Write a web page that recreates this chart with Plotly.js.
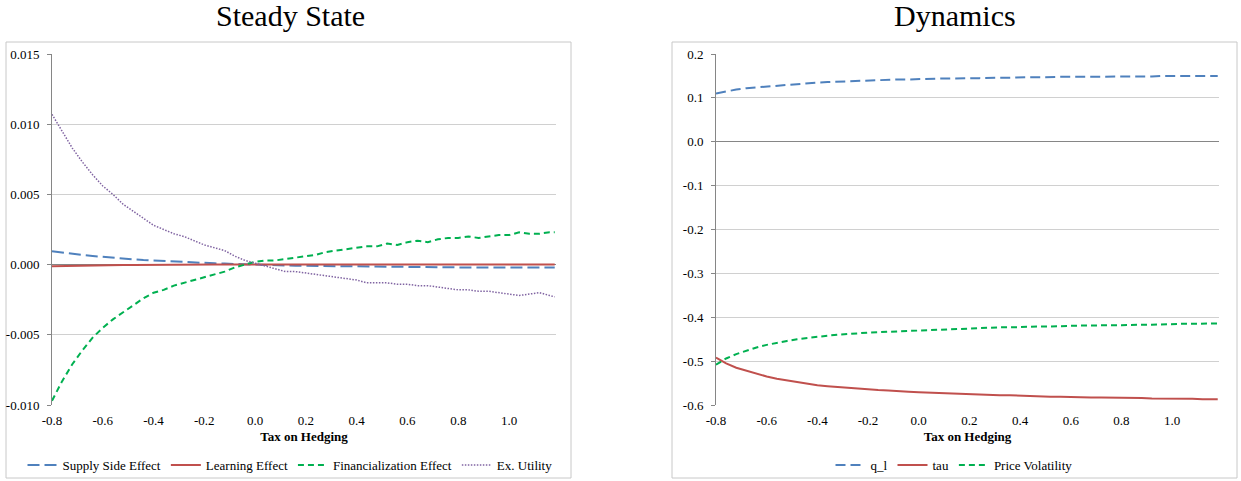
<!DOCTYPE html>
<html>
<head>
<meta charset="utf-8">
<script src="https://cdn.plot.ly/plotly-3.0.1.min.js"></script>
<style>html,body{margin:0;padding:0;background:#fff;}#chart{width:1241px;height:481px;}</style>
</head>
<body>
<div id="chart"></div>
<script>
// Categories: Tax on Hedging
const taxOnHedging = [-0.80,-0.76,-0.72,-0.68,-0.64,-0.60,-0.56,-0.52,-0.48,-0.44,-0.40,-0.36,-0.32,-0.28,-0.24,-0.20,-0.16,-0.12,-0.08,-0.04,0.00,0.04,0.08,0.12,0.16,0.20,0.24,0.28,0.32,0.36,0.40,0.44,0.48,0.52,0.56,0.60,0.64,0.68,0.72,0.76,0.80,0.84,0.88,0.92,0.96,1.00,1.04,1.08,1.12,1.16,1.18];

// Steady State series
const supplySideEffect = [0.00095,0.00085,0.00076,0.00068,0.00061,0.00054,0.00048,0.00043,0.00038,0.00033,0.00029,0.00025,0.00021,0.00018,0.00015,0.00012,0.00009,0.00007,0.00004,0.00002,0.00000,-0.00002,-0.00004,-0.00006,-0.00008,-0.00009,-0.00011,-0.00012,-0.00013,-0.00014,-0.00015,-0.00016,-0.00017,-0.00017,-0.00018,-0.00018,-0.00019,-0.00019,-0.00020,-0.00020,-0.00020,-0.00020,-0.00020,-0.00020,-0.00020,-0.00020,-0.00021,-0.00021,-0.00021,-0.00021,-0.00021];
const learningEffect = [-0.00012,-0.00010,-0.00008,-0.00007,-0.00006,-0.00005,-0.00004,-0.00003,-0.00003,-0.00002,-0.00002,-0.00001,-0.00001,-0.00001,0.00000,0.00000,0.00000,0.00000,0.00000,0.00000,0.00000,0.00000,0.00000,0.00000,0.00000,0.00000,0.00000,0.00000,0.00000,0.00000,0.00000,0.00000,0.00000,0.00000,0.00000,0.00000,0.00000,0.00000,0.00000,0.00000,0.00000,0.00000,0.00000,0.00000,0.00000,0.00000,0.00000,0.00000,0.00000,0.00000,0.00000];
const financializationEffect = [-0.0097,-0.0083,-0.0071,-0.0061,-0.0052,-0.0045,-0.0039,-0.0034,-0.0029,-0.0024,-0.0020,-0.0018,-0.0015,-0.0013,-0.0011,-0.0009,-0.0007,-0.0005,-0.0002,0.0000,0.0002,0.0003,0.0003,0.0004,0.0005,0.0006,0.0007,0.0009,0.0010,0.0011,0.0012,0.0013,0.0013,0.0015,0.0014,0.0016,0.0017,0.0016,0.0018,0.0019,0.0019,0.0020,0.0019,0.0020,0.0021,0.0021,0.0023,0.0022,0.0022,0.0023,0.0023];
const exUtility = [0.0107,0.0095,0.0083,0.0073,0.0064,0.0056,0.0050,0.0043,0.0038,0.0033,0.0028,0.0025,0.0022,0.0020,0.0017,0.0014,0.0012,0.0010,0.0006,0.0003,0.0001,-0.0001,-0.0003,-0.0005,-0.0005,-0.0006,-0.0007,-0.0008,-0.0009,-0.0010,-0.0011,-0.0013,-0.0013,-0.0013,-0.0014,-0.0014,-0.0015,-0.0015,-0.0016,-0.0017,-0.0018,-0.0018,-0.0019,-0.0019,-0.0020,-0.0021,-0.0022,-0.0021,-0.0020,-0.0022,-0.0023];

// Dynamics series
const qL = [0.110,0.115,0.119,0.122,0.124,0.126,0.128,0.130,0.132,0.133,0.135,0.136,0.137,0.138,0.139,0.140,0.140,0.141,0.142,0.142,0.143,0.143,0.144,0.144,0.145,0.145,0.145,0.146,0.146,0.146,0.147,0.147,0.147,0.148,0.148,0.148,0.148,0.148,0.149,0.149,0.149,0.149,0.149,0.149,0.150,0.150,0.150,0.150,0.150,0.150,0.150];
const tau = [-0.492,-0.505,-0.515,-0.522,-0.529,-0.535,-0.540,-0.544,-0.548,-0.552,-0.555,-0.557,-0.559,-0.561,-0.563,-0.565,-0.566,-0.567,-0.569,-0.570,-0.571,-0.572,-0.573,-0.574,-0.575,-0.576,-0.577,-0.577,-0.578,-0.578,-0.579,-0.580,-0.580,-0.581,-0.581,-0.582,-0.582,-0.583,-0.583,-0.583,-0.584,-0.584,-0.584,-0.585,-0.585,-0.586,-0.586,-0.586,-0.587,-0.587,-0.587];
const priceVolatility = [-0.508,-0.494,-0.484,-0.476,-0.469,-0.463,-0.458,-0.454,-0.450,-0.447,-0.444,-0.442,-0.440,-0.438,-0.437,-0.435,-0.434,-0.433,-0.432,-0.431,-0.430,-0.429,-0.428,-0.427,-0.426,-0.425,-0.425,-0.424,-0.423,-0.423,-0.422,-0.422,-0.421,-0.421,-0.420,-0.420,-0.419,-0.419,-0.418,-0.418,-0.418,-0.417,-0.417,-0.417,-0.416,-0.416,-0.415,-0.415,-0.415,-0.414,-0.414];

// Tick labels
const xTickVals = [-0.8,-0.6,-0.4,-0.2,0.0,0.2,0.4,0.6,0.8,1.0];
const xTickText = ["-0.8","-0.6","-0.4","-0.2","0.0","0.2","0.4","0.6","0.8","1.0"];
const y1TickVals = [-0.010,-0.005,0.000,0.005,0.010,0.015];
const y1TickText = ["-0.010","-0.005","0.000","0.005","0.010","0.015"];
const y2TickVals = [-0.6,-0.5,-0.4,-0.3,-0.2,-0.1,0.0,0.1,0.2];
const y2TickText = ["-0.6","-0.5","-0.4","-0.3","-0.2","-0.1","0.0","0.1","0.2"];

const W = 1241, H = 481;
const px = v => v / W;
const py = v => 1 - v / H;
const FONT = "Liberation Serif, Times New Roman, serif";
const BLUE = "#4f81bd", RED = "#c0504d", GREEN = "#00b050", PURPLE = "#8064a2";

const traces = [
  {x: taxOnHedging, y: supplySideEffect, name: "Supply Side Effect", xaxis: "x", yaxis: "y", legend: "legend",
   mode: "lines", line: {color: BLUE, width: 2, dash: "12px,5px"}},
  {x: taxOnHedging, y: learningEffect, name: "Learning Effect", xaxis: "x", yaxis: "y", legend: "legend",
   mode: "lines", line: {color: RED, width: 2}},
  {x: taxOnHedging, y: financializationEffect, name: "Financialization Effect", xaxis: "x", yaxis: "y", legend: "legend",
   mode: "lines", line: {color: GREEN, width: 2, dash: "6px,4px"}},
  {x: taxOnHedging, y: exUtility, name: "Ex. Utility", xaxis: "x", yaxis: "y", legend: "legend",
   mode: "lines", line: {color: PURPLE, width: 1.5, dash: "1.5px,1.5px"}},
  {x: taxOnHedging, y: qL, name: "q_l", xaxis: "x2", yaxis: "y2", legend: "legend2",
   mode: "lines", line: {color: BLUE, width: 2, dash: "10px,5px"}},
  {x: taxOnHedging, y: tau, name: "tau", xaxis: "x2", yaxis: "y2", legend: "legend2",
   mode: "lines", line: {color: RED, width: 2}},
  {x: taxOnHedging, y: priceVolatility, name: "Price Volatility", xaxis: "x2", yaxis: "y2", legend: "legend2",
   mode: "lines", line: {color: GREEN, width: 2, dash: "6px,4px"}}
];

const xCommon = {
  range: [-0.8, 1.185], tickmode: "array", tickvals: xTickVals, ticktext: xTickText,
  showgrid: false, zeroline: false, showline: false, ticks: "", ticklabelstandoff: 6,
  tickfont: {family: FONT, size: 13, color: "#000"},
  title: {text: "<b>Tax on Hedging</b>", font: {family: FONT, size: 13, color: "#000"}, standoff: 4},
  fixedrange: true
};
const yCommon = {
  showgrid: true, gridcolor: "#d0d0d0", gridwidth: 1,
  showline: true, linecolor: "#868686", linewidth: 1,
  ticks: "outside", ticklen: 4, tickcolor: "#868686", ticklabelstandoff: 5,
  tickfont: {family: FONT, size: 13, color: "#000"},
  fixedrange: true
};

const layout = {
  width: W, height: H,
  margin: {l: 0, r: 0, t: 0, b: 0},
  paper_bgcolor: "#fff", plot_bgcolor: "#fff",
  font: {family: FONT, size: 13, color: "#000"},
  xaxis: Object.assign({}, xCommon, {domain: [px(52), px(556)], anchor: "y"}),
  yaxis: Object.assign({}, yCommon, {domain: [1 - 405/H, 1 - 54/H], anchor: "x",
    range: [-0.010, 0.015], tickmode: "array", tickvals: y1TickVals, ticktext: y1TickText,
    zeroline: true, zerolinecolor: "#868686", zerolinewidth: 1}),
  xaxis2: Object.assign({}, xCommon, {domain: [px(716), px(1219)], anchor: "y2"}),
  yaxis2: Object.assign({}, yCommon, {domain: [1 - 405/H, 1 - 54/H], anchor: "x2",
    range: [-0.6, 0.2], tickmode: "array", tickvals: y2TickVals, ticktext: y2TickText,
    zeroline: true, zerolinecolor: "#868686", zerolinewidth: 1}),
  legend: {orientation: "h", x: px(290), xanchor: "center", y: py(465), yanchor: "middle",
    font: {family: FONT, size: 13, color: "#000"}, bgcolor: "rgba(0,0,0,0)", itemwidth: 30, tracegroupgap: 0},
  legend2: {orientation: "h", x: px(954), xanchor: "center", y: py(465), yanchor: "middle",
    font: {family: FONT, size: 13, color: "#000"}, bgcolor: "rgba(0,0,0,0)", itemwidth: 30, tracegroupgap: 0},
  showlegend: true,
  shapes: [
    {type: "rect", xref: "paper", yref: "paper", x0: px(6), x1: px(571), y0: py(478), y1: py(42),
     line: {color: "#c8c8c8", width: 1}, fillcolor: "rgba(0,0,0,0)", layer: "below"},
    {type: "rect", xref: "paper", yref: "paper", x0: px(672), x1: px(1237), y0: py(478), y1: py(42),
     line: {color: "#c8c8c8", width: 1}, fillcolor: "rgba(0,0,0,0)", layer: "below"}
  ],
  annotations: [
    {text: "Steady State", xref: "paper", yref: "paper", x: px(290), y: py(15), xanchor: "center", yanchor: "middle",
     showarrow: false, font: {family: FONT, size: 30, color: "#000"}},
    {text: "Dynamics", xref: "paper", yref: "paper", x: px(954.5), y: py(15), xanchor: "center", yanchor: "middle",
     showarrow: false, font: {family: FONT, size: 30, color: "#000"}}
  ]
};

Plotly.newPlot("chart", traces, layout, {staticPlot: true, displayModeBar: false});
</script>
</body>
</html>
